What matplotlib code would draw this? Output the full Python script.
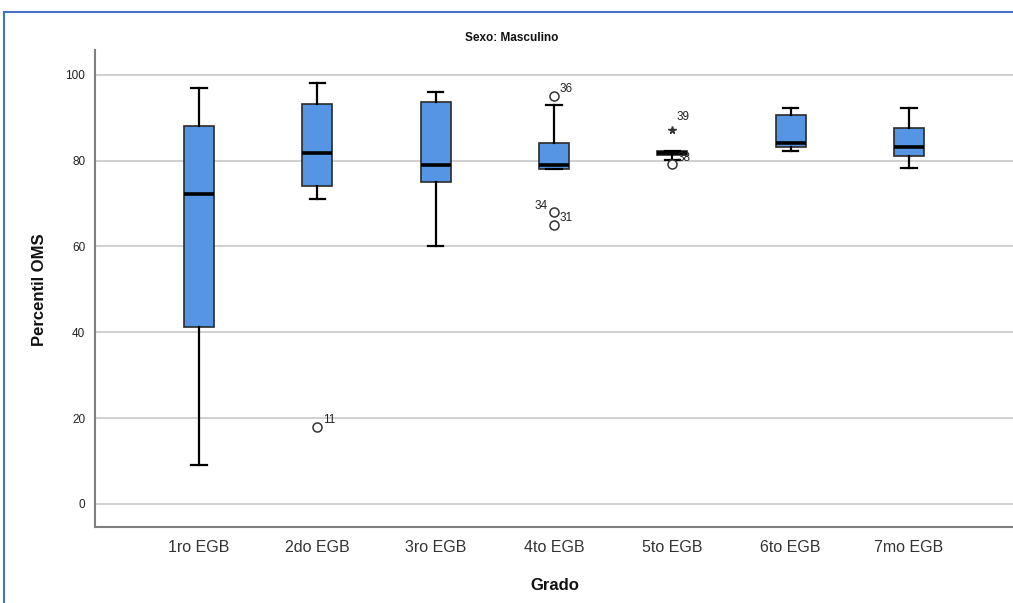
import matplotlib
matplotlib.use("Agg")
import matplotlib.pyplot as plt
from matplotlib.lines import Line2D

plt.rcParams['font.family'] = ['Liberation Sans', 'DejaVu Sans']

categories = ["1ro EGB", "2do EGB", "3ro EGB", "4to EGB", "5to EGB", "6to EGB", "7mo EGB"]
whislo = [9, 71, 60, 78, 80.2, 82.3, 78.3]
q1 = [41.3, 74.1, 75, 78, 81.4, 83.2, 81.1]
med = [72.2, 81.8, 79, 79, 81.8, 84.1, 83.2]
q3 = [88.1, 93.2, 93.7, 84.1, 82.3, 90.7, 87.6]
whishi = [97, 98, 96, 93, 82.3, 92.3, 92.3]

# outliers: (category index, value, label)
out_cat = [1, 3, 3, 3, 4]
out_val = [18, 95.1, 68, 65, 79.3]
out_lab = ["11", "36", "31", "34", "38"]
# extreme (star)
ext_cat = [4]
ext_val = [87.2]
ext_lab = ["39"]

fig = plt.figure(figsize=(10.13, 6.03), dpi=100)
ax = fig.add_axes([95/1013, 76/603, 1 - 95/1013, (527-50)/603])

stats = []
for i in range(len(categories)):
    stats.append(dict(med=med[i], q1=q1[i], q3=q3[i], whislo=whislo[i],
                      whishi=whishi[i], fliers=[], label=categories[i]))

ax.bxp(stats, positions=range(len(categories)), widths=0.255, patch_artist=True,
       showfliers=False,
       boxprops=dict(facecolor="#5595e3", edgecolor="#2b2b2b", linewidth=1.2),
       medianprops=dict(color="black", linewidth=2.6),
       whiskerprops=dict(color="black", linewidth=1.6),
       capprops=dict(color="black", linewidth=1.6),
       capwidths=0.13)

ax.plot(out_cat, out_val, linestyle="none", marker="o", markersize=6.5,
        markerfacecolor="white", markeredgecolor="#333333", markeredgewidth=1.1, zorder=5)
ax.plot(ext_cat, ext_val, linestyle="none", marker="*", markersize=5.5,
        color="#333333", zorder=5)

offsets = {"11": (4, 5), "36": (4, 5), "31": (4, -4), "34": (-14, 14), "38": (4, 4)}
for c, v, l in zip(out_cat, out_val, out_lab):
    dx, dy = offsets[l]
    ax.annotate(l, (c, v), xytext=(dx, dy), textcoords="offset points",
                fontsize=8.5, color="#222222", ha="left", va="center")
for c, v, l in zip(ext_cat, ext_val, ext_lab):
    ax.annotate(l, (c, v), xytext=(3, 9), textcoords="offset points",
                fontsize=8.5, color="#222222", ha="left", va="center")

ax.set_xlim(-0.88, 6.88)
ax.set_ylim(-5.4, 105.8)
ax.set_yticks([0, 20, 40, 60, 80, 100])
ax.set_xticks(range(len(categories)))
ax.set_xticklabels(categories, fontsize=11.5, color="#333333")
ax.tick_params(axis="y", length=0, pad=7, labelsize=8.5, labelcolor="#222222")
ax.tick_params(axis="x", length=0, pad=9)
ax.yaxis.grid(True, color="#d0d0d0", linewidth=1.4)
ax.set_axisbelow(True)
for s in ["top", "right"]:
    ax.spines[s].set_visible(False)
for s in ["left", "bottom"]:
    ax.spines[s].set_color("#808080")
    ax.spines[s].set_linewidth(1.5)

fig.text(40/1013, 1 - 290/603, "Percentil OMS", rotation=90, fontsize=12,
         fontweight="bold", ha="center", va="center", color="#111111")
fig.text(555/1013, 1 - 585/603, "Grado", fontsize=12, fontweight="bold",
         ha="center", va="center", color="#111111")
fig.text(512/1013, 1 - 38/603, "Sexo: Masculino", fontsize=8.5, fontweight="bold",
         ha="center", va="center", color="#111111")

# window border
fig.add_artist(Line2D([4/1013, 1], [1 - 12/603, 1 - 12/603], color="#4472c4", linewidth=1.5))
fig.add_artist(Line2D([4/1013, 4/1013], [0, 1 - 12/603], color="#4472c4", linewidth=1.5))

fig.savefig("out.png", dpi=100)
